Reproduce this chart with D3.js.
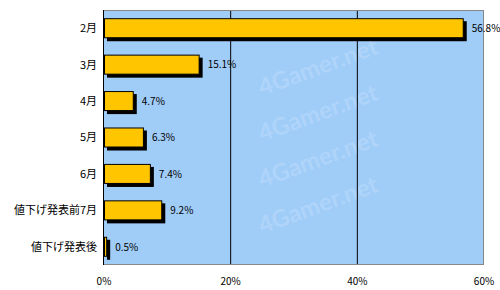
<!DOCTYPE html>
<html>
<head>
<meta charset="utf-8">
<script src="https://cdn.jsdelivr.net/npm/d3@7"></script>
<style>
  body { margin: 0; background: #fff; }
  svg { display: block; }
  text { font-family: "Noto Sans CJK JP", "DejaVu Sans", sans-serif; fill: #000; }
</style>
</head>
<body>
<div id="chart"></div>
<script>
// data
var categories = ["2月", "3月", "4月", "5月", "6月", "値下げ発表前7月", "値下げ発表後"];
var values = [56.8, 15.1, 4.7, 6.3, 7.4, 9.2, 0.5];
var ticks = [0, 20, 40, 60];

var width = 500, height = 290;
var margin = { top: 10, right: 16, bottom: 25, left: 104 };
var plotW = width - margin.left - margin.right;
var plotH = height - margin.top - margin.bottom;

var svg = d3.select("#chart").append("svg")
    .attr("width", width)
    .attr("height", height);

var x = d3.scaleLinear().domain([0, 60]).range([margin.left, margin.left + plotW]);
var y = d3.scaleBand().domain(categories)
    .range([margin.top, margin.top + plotH])
    .paddingInner(0.45).paddingOuter(0.225);

// plot background
svg.append("rect")
    .attr("x", margin.left - 1).attr("y", margin.top)
    .attr("width", plotW + 1).attr("height", plotH)
    .attr("fill", "#a0ccf8");

// watermark, only copies that sit fully inside the plot
var wm = svg.append("g");
for (var r = 0; r < 8; r++) {
  for (var c = 0; c < 4; c++) {
    var wx = margin.left + c * 150 + 8;
    var wy = margin.top + r * 46 + 40;
    wm.append("text")
        .attr("transform", "translate(" + wx + "," + wy + ") rotate(-20)")
        .attr("font-size", 24)
        .attr("font-weight", "bold")
        .style("font-family", "Lato, sans-serif")
        .style("fill", "#afd4fa")
        .text("4Gamer.net");
  }
}
wm.selectAll("text").each(function () {
  var b = this.getBoundingClientRect();
  if (b.left < margin.left + 1 || b.right > margin.left + plotW - 1 ||
      b.top < margin.top + 1 || b.bottom > margin.top + plotH - 1) {
    d3.select(this).remove();
  }
});

// gridlines
svg.selectAll("line.grid")
    .data(ticks.filter(function (d) { return d > 0 && d < 60; }))
    .enter().append("line")
    .attr("class", "grid")
    .attr("x1", function (d) { return x(d); })
    .attr("x2", function (d) { return x(d); })
    .attr("y1", margin.top).attr("y2", margin.top + plotH)
    .attr("stroke", "#000").attr("stroke-width", 1);

// plot border
svg.append("rect")
    .attr("x", margin.left - 0.5).attr("y", margin.top + 0.5)
    .attr("width", plotW).attr("height", plotH - 1)
    .attr("fill", "none").attr("stroke", "#888");
svg.append("line")
    .attr("x1", margin.left - 0.5).attr("x2", margin.left - 0.5)
    .attr("y1", margin.top).attr("y2", margin.top + plotH)
    .attr("stroke", "#000");

// bars with shadow
var bars = svg.selectAll("g.bar")
    .data(values)
    .enter().append("g")
    .attr("class", "bar");

bars.append("rect")
    .attr("x", x(0) + 3)
    .attr("y", function (d, i) { return y(categories[i]) + 3; })
    .attr("width", function (d) { return x(d) - x(0); })
    .attr("height", y.bandwidth())
    .attr("fill", "#000");

bars.append("rect")
    .attr("x", x(0) + 0.5)
    .attr("y", function (d, i) { return y(categories[i]) + 0.5; })
    .attr("width", function (d) { return x(d) - x(0) - 1; })
    .attr("height", y.bandwidth() - 1)
    .attr("fill", "#ffc600")
    .attr("stroke", "#000");

bars.append("text")
    .attr("x", function (d) { return x(d) + 8; })
    .attr("y", function (d, i) { return y(categories[i]) + y.bandwidth() / 2 + 1; })
    .attr("dominant-baseline", "middle")
    .attr("font-size", 10)
    .text(function (d) { return d.toFixed(1) + "%"; });

// category labels
svg.selectAll("text.cat")
    .data(categories)
    .enter().append("text")
    .attr("class", "cat")
    .attr("x", 97)
    .attr("y", function (d) { return y(d) + y.bandwidth() / 2 + 1; })
    .attr("text-anchor", "end")
    .attr("dominant-baseline", "middle")
    .attr("font-size", 11)
    .text(function (d) { return d; });

// x tick labels
svg.selectAll("text.tick")
    .data(ticks)
    .enter().append("text")
    .attr("class", "tick")
    .attr("x", function (d) { return x(d); })
    .attr("y", 285)
    .attr("text-anchor", "middle")
    .attr("font-size", 10)
    .text(function (d) { return d + "%"; });
</script>
</body>
</html>
